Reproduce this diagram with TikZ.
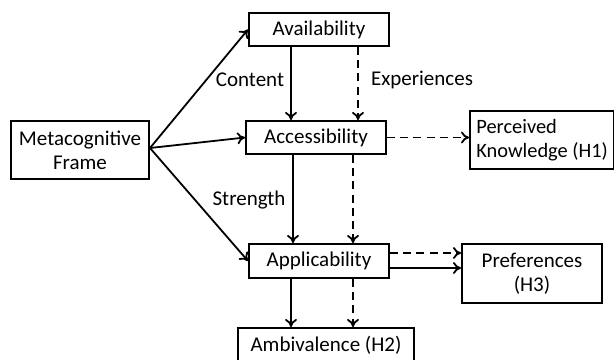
\documentclass[tikz,border=0pt]{standalone}
\usepackage{fontspec}
\setmainfont{Carlito}
\usetikzlibrary{arrows.meta}
\begin{document}
\begin{tikzpicture}[x=0.5pt,y=-0.5pt,
  box/.style={draw,line width=1pt,inner sep=0pt,align=center,font=\fontsize{10.5}{12}\selectfont},
  lbl/.style={inner sep=0pt,font=\fontsize{10.5}{12}\selectfont},
  arr/.style={line width=0.9pt,-{To[length=4pt,width=6pt,line width=0.9pt]}},
  darr/.style={arr,dash pattern=on 4pt off 2.6pt}]
\clip (0,0) rectangle (614,359);
\fill[white] (0,0) rectangle (614,359);
\node[box,minimum width=70pt,minimum height=16.5pt] (avail) at (319,29.5) {Availability};
\node[box,minimum width=70pt,minimum height=16.5pt] (access) at (316,137.5) {Accessibility};
\node[box,minimum width=69pt,minimum height=29pt] (meta) at (80,150) {Metacognitive\\Frame};
\node[box,minimum height=29pt,align=left,inner xsep=3.2pt,anchor=west,font=\fontsize{10.2}{12}\selectfont] (perc) at (469,140) {Perceived\\Knowledge (H1)};
\node[box,minimum width=70pt,minimum height=17pt] (applic) at (319,261) {Applicability};
\node[box,minimum width=70pt,minimum height=29.5pt] (pref) at (532,273.5) {Preferences\\(H3)};
\node[box,minimum width=88pt,minimum height=17pt] (ambiv) at (326,345) {Ambivalence (H2)};
\node[lbl] (content) at (250,80) {Content};
\node[lbl] (exper) at (422,80) {Experiences};
\node[lbl] (strength) at (249,200) {Strength};
\coordinate (s) at (150,148);
\coordinate (xa) at (291,0);
\coordinate (xb) at (293,0);
\coordinate (xc) at (358,0);
\coordinate (xd) at (353,0);
\coordinate (ya) at (0,253);
\coordinate (yb) at (0,268);
\draw[arr] (s) -- (avail.west);
\draw[arr] (s) -- (access.west);
\draw[arr] (s) -- (applic.west);
\draw[arr] (avail.south -| xa) -- (access.north -| xa);
\draw[arr] (access.south -| xb) -- (applic.north -| xb);
\draw[arr] (applic.south -| xa) -- (ambiv.north -| xa);
\draw[darr] (avail.south -| xc) -- (access.north -| xc);
\draw[darr] (access.south -| xd) -- (applic.north -| xd);
\draw[darr] (applic.south -| xd) -- (ambiv.north -| xd);
\draw[darr] (access.east) -- (access.east -| perc.west);
\draw[darr] (applic.east |- ya) -- (pref.west |- ya);
\draw[arr] (applic.east |- yb) -- (pref.west |- yb);
\end{tikzpicture}
\end{document}
